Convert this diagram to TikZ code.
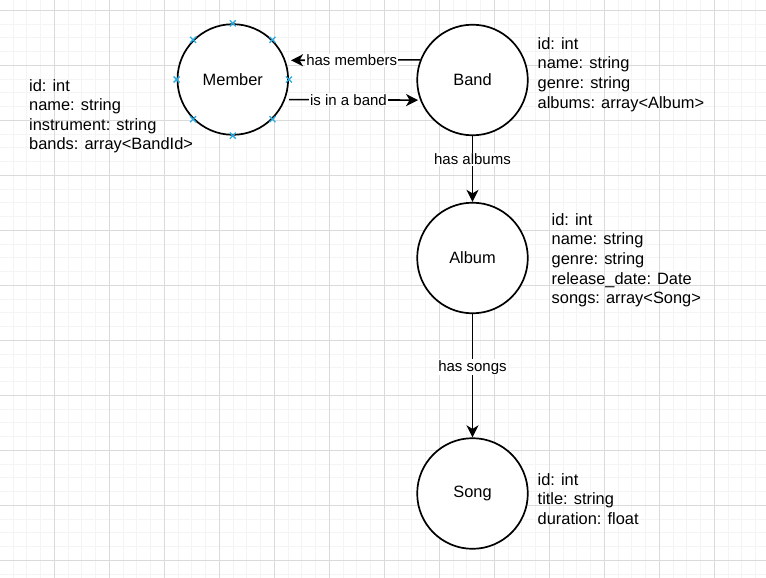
\documentclass[tikz,border=0pt]{standalone}
\usepackage{fontspec}
\setmainfont{Liberation Sans}
\usetikzlibrary{arrows.meta}
\definecolor{gridminor}{RGB}{244,244,244}
\definecolor{gridmajor}{RGB}{218,218,218}
\definecolor{selblue}{RGB}{41,170,225}
\tikzset{
  entity/.style={circle, draw=black, line width=1.7pt, minimum size=110.6pt, inner sep=0pt, fill=white, font=\fontsize{16.4}{19.6}\selectfont},
  attrs/.style={anchor=north west, inner sep=0pt, align=left, font=\fontsize{16.4}{19.6}\selectfont},
  rel/.style={draw=black, line width=1.6pt, -{Stealth[length=12pt,width=12pt,inset=3.5pt]}},
  lbl/.style={fill=white, inner sep=1pt, font=\fontsize{15}{18}\selectfont},
  selmark/.style={draw=selblue, line width=1.3pt}
}
\begin{document}
\begin{tikzpicture}[x=1pt,y=-1pt]
\useasboundingbox (0,0) rectangle (766,578);
\fill[white] (0,0) rectangle (766,578);
% grid
\foreach \k in {0,...,56} \draw[gridminor, line width=0.9pt] ({-0.7+13.75*\k},0) -- ({-0.7+13.75*\k},578);
\foreach \k in {-1,...,41} \draw[gridminor, line width=0.9pt] (0,{10.3+13.75*\k}) -- (766,{10.3+13.75*\k});
\foreach \k in {0,...,14} \draw[gridmajor, line width=0.9pt] ({-0.7+55*\k},0) -- ({-0.7+55*\k},578);
\foreach \k in {0,...,10} \draw[gridmajor, line width=0.9pt] (0,{10.3+55*\k}) -- (766,{10.3+55*\k});
% entities
\node[entity] (member) at (232.8,79.5) {Member};
\node[entity] (band) at (472.5,80) {Band};
\node[entity] (album) at (472.5,258) {Album};
\node[entity] (song) at (472.5,493.5) {Song};
% selection markers
\foreach \a in {0,45,...,315} {
  \draw[selmark] (member.\a) +(-3,-3) -- +(3,3) +(-3,3) -- +(3,-3);
}
% attributes
\node[attrs] (memberattrs) at (29,79) {id: int\\name: string\\instrument: string\\bands: array<BandId>};
\node[attrs] (bandattrs) at (537.5,37.3) {id: int\\name: string\\genre: string\\albums: array<Album>};
\node[attrs] (albumattrs) at (551.5,213.3) {id: int\\name: string\\genre: string\\release\_date: Date\\songs: array<Song>};
\node[attrs] (songattrs) at (537.5,473.3) {id: int\\title: string\\duration: float};
% relations
\draw[rel] (band.159.4) -- ([xshift=5.5pt]member.20.6) node[lbl, pos=0.53] {has members};
\draw[rel] ([xshift=4pt]member.-21.7) -- ([xshift=-2pt]band.201.2) node[lbl, pos=0.46] {is in a band};
\draw[rel] (band.south) -- (album.north) node[lbl, pos=0.35] {has albums};
\draw[rel] (album.south) -- (song.north) node[lbl, pos=0.43] {has songs};
\end{tikzpicture}
\end{document}
